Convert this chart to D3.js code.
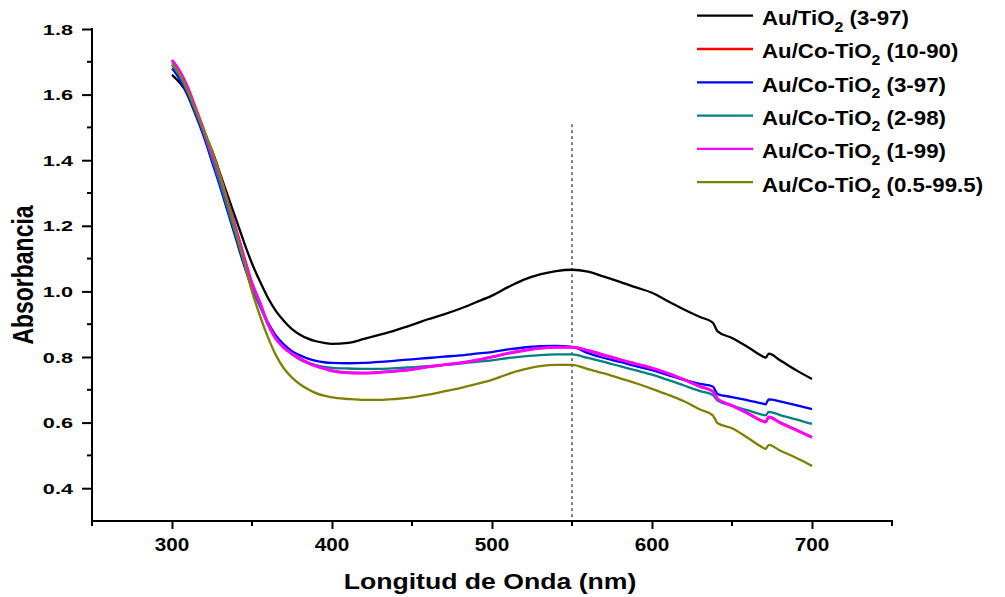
<!DOCTYPE html>
<html><head><meta charset="utf-8">
<script src="https://cdn.jsdelivr.net/npm/d3@7"></script>
<style>
body{margin:0;background:#fff;}
svg text{font-family:Arial,"Liberation Sans",sans-serif;font-weight:bold;fill:#000;}
</style></head>
<body><svg id="c" width="1005" height="597"></svg>
<script>
const wavelengths = [300,305,310,315,320,325,330,335,340,345,350,355,360,365,370,375,380,385,390,395,400,410,420,430,440,450,460,470,480,490,500,510,520,530,540,550,560,570,580,590,600,610,620,630,638,641,650,660,670,671,673,680,690,700];
const auTiO2_3_97 = [1.66,1.635,1.60,1.545,1.48,1.43,1.36,1.29,1.22,1.15,1.085,1.03,0.98,0.94,0.91,0.885,0.868,0.856,0.848,0.843,0.840,0.843,0.855,0.868,0.882,0.898,0.915,0.93,0.947,0.967,0.987,1.013,1.036,1.052,1.062,1.066,1.06,1.045,1.029,1.012,0.996,0.97,0.945,0.922,0.905,0.878,0.858,0.83,0.80,0.798,0.81,0.79,0.76,0.733];
const auCo_10_90 = [1.705,1.67,1.62,1.555,1.49,1.42,1.35,1.27,1.19,1.105,1.025,0.965,0.90,0.855,0.828,0.81,0.795,0.782,0.772,0.765,0.758,0.752,0.751,0.753,0.757,0.762,0.77,0.776,0.782,0.79,0.80,0.811,0.82,0.827,0.830,0.830,0.82,0.806,0.792,0.779,0.766,0.75,0.731,0.71,0.695,0.672,0.652,0.628,0.603,0.602,0.617,0.6,0.578,0.555];
const auCo_3_97 = [1.68,1.645,1.595,1.535,1.47,1.395,1.32,1.24,1.16,1.08,1.01,0.955,0.905,0.865,0.838,0.818,0.805,0.795,0.788,0.784,0.782,0.781,0.782,0.785,0.789,0.793,0.797,0.801,0.805,0.81,0.815,0.823,0.829,0.833,0.834,0.831,0.812,0.797,0.785,0.772,0.76,0.745,0.73,0.718,0.71,0.687,0.678,0.668,0.657,0.656,0.671,0.665,0.653,0.641];
const auCo_2_98 = [1.69,1.655,1.605,1.545,1.48,1.405,1.33,1.25,1.17,1.09,1.015,0.955,0.90,0.857,0.83,0.808,0.792,0.782,0.775,0.77,0.767,0.765,0.764,0.764,0.766,0.769,0.772,0.776,0.78,0.785,0.79,0.797,0.802,0.806,0.808,0.808,0.797,0.785,0.772,0.759,0.746,0.73,0.713,0.696,0.684,0.667,0.652,0.637,0.623,0.622,0.633,0.623,0.61,0.596];
const auCo_1_99 = [1.705,1.67,1.62,1.555,1.49,1.42,1.35,1.27,1.19,1.105,1.025,0.965,0.90,0.855,0.828,0.81,0.795,0.782,0.772,0.765,0.758,0.752,0.751,0.753,0.757,0.762,0.77,0.776,0.782,0.79,0.80,0.811,0.82,0.827,0.830,0.830,0.82,0.806,0.792,0.779,0.766,0.75,0.731,0.71,0.695,0.672,0.652,0.628,0.603,0.602,0.617,0.6,0.578,0.555];
const auCo_05_995 = [1.696,1.66,1.61,1.55,1.49,1.43,1.355,1.27,1.18,1.09,1.0,0.925,0.86,0.805,0.765,0.737,0.717,0.702,0.69,0.682,0.677,0.672,0.669,0.669,0.672,0.677,0.685,0.695,0.705,0.717,0.73,0.748,0.762,0.772,0.776,0.776,0.763,0.75,0.735,0.72,0.703,0.685,0.665,0.64,0.622,0.598,0.583,0.553,0.522,0.52,0.532,0.515,0.493,0.468];

const seriesNames = ["Au/TiO|2| (3-97)","Au/Co-TiO|2| (10-90)","Au/Co-TiO|2| (3-97)","Au/Co-TiO|2| (2-98)","Au/Co-TiO|2| (1-99)","Au/Co-TiO|2| (0.5-99.5)"];
const seriesValues = [auTiO2_3_97, auCo_10_90, auCo_3_97, auCo_2_98, auCo_1_99, auCo_05_995];
const seriesColors = ["#000000","#ff0000","#0000ff","#008080","#ff00ff","#808000"];
const seriesWidths = [2.3,2.3,2.3,2.3,3,2.3];
const xTicks = [300,400,500,600,700];
const yTicks = [0.4,0.6,0.8,1.0,1.2,1.4,1.6,1.8];
const markerX = 550;

const svg = d3.select("#c");
const x = d3.scaleLinear().domain([250,750]).range([92,892]);
const y = d3.scaleLinear().domain([0.3,1.8]).range([521,29]);

// x axis
const xAxis = d3.axisBottom(x).tickValues(xTicks).tickSize(8).tickFormat("");
const gx = svg.append("g").attr("transform","translate(0,521)").call(xAxis);
gx.select(".domain").attr("stroke-width",2).attr("d","M91,0H893");
gx.selectAll(".tick line").attr("stroke-width",2);
gx.selectAll(".tick text").remove();
const xMinor = d3.range(250,751,50).filter(v=>!xTicks.includes(v));
gx.selectAll(".minor").data(xMinor).enter().append("line")
  .attr("x1",d=>x(d)).attr("x2",d=>x(d)).attr("y1",0).attr("y2",5).attr("stroke","#000").attr("stroke-width",2);
svg.append("g").selectAll("text").data(xTicks).enter().append("text")
  .attr("transform",d=>`translate(${x(d)},551) scale(1.12,1)`)
  .attr("text-anchor","middle").attr("font-size",18.5).text(d3.format("d"));

// y axis
const yAxis = d3.axisLeft(y).tickValues(yTicks).tickSize(10).tickFormat("");
const gy = svg.append("g").attr("transform","translate(92,0)").call(yAxis);
gy.select(".domain").attr("stroke-width",2).attr("d","M0,522V28");
gy.selectAll(".tick line").attr("stroke-width",2);
gy.selectAll(".tick text").remove();
const yMinor = [0.5,0.7,0.9,1.1,1.3,1.5,1.7];
gy.selectAll(".minor").data(yMinor).enter().append("line")
  .attr("x1",0).attr("x2",-5).attr("y1",d=>y(d)).attr("y2",d=>y(d)).attr("stroke","#000").attr("stroke-width",2);
svg.append("g").selectAll("text").data(yTicks).enter().append("text")
  .attr("transform",d=>`translate(73,${y(d)+5.5}) scale(1.4,1)`)
  .attr("text-anchor","end").attr("font-size",15.5).text(d3.format(".1f"));

// dashed marker
svg.append("line").attr("x1",x(markerX)).attr("x2",x(markerX)).attr("y1",y(1.51)).attr("y2",521)
  .attr("stroke","#000").attr("stroke-width",1).attr("stroke-dasharray","3,3");

// lines
const line = d3.line().x((d,i)=>x(wavelengths[i])).y(d=>y(d)).curve(d3.curveMonotoneX);
seriesValues.forEach((vals,k)=>{
  svg.append("path").datum(vals).attr("d",line).attr("fill","none")
    .attr("stroke",seriesColors[k]).attr("stroke-width",seriesWidths[k]).attr("stroke-linejoin","round");
});

// axis titles
svg.append("text").attr("transform","translate(490,589) scale(1.21,1)").attr("text-anchor","middle").attr("font-size",22).text("Longitud de Onda (nm)");
svg.append("text").attr("transform","translate(33,275) scale(1.25,1) rotate(-90)").attr("text-anchor","middle").attr("font-size",23).text("Absorbancia");

// legend
const lg = svg.append("g");
seriesNames.forEach((name,k)=>{
  const yy = 15.7 + k*33.3;
  lg.append("line").attr("x1",697).attr("x2",753).attr("y1",yy).attr("y2",yy)
    .attr("stroke",seriesColors[k]).attr("stroke-width",2.3);
  const parts = name.split("|");
  const t = lg.append("text").attr("transform",`translate(762,${yy+9.3}) scale(1.06,1)`).attr("font-size",21);
  t.append("tspan").text(parts[0]);
  t.append("tspan").attr("font-size",15).attr("dy",6.5).text(parts[1]);
  t.append("tspan").attr("dy",-6.5).text(" "+parts[2].trim());
});
</script></body></html>
